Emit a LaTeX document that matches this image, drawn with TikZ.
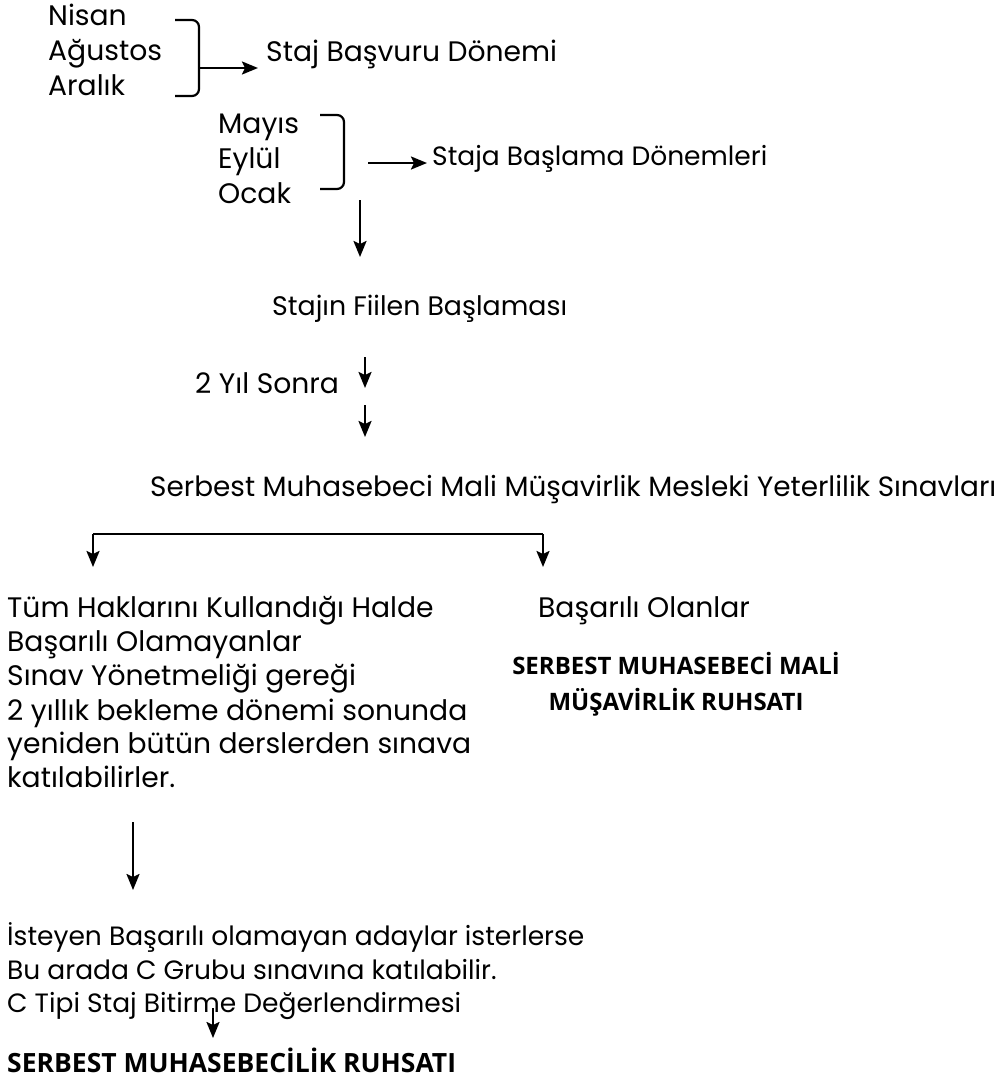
\documentclass[tikz,border=0pt]{standalone}
\usepackage{fontspec}
\setmainfont{Poppins}
\newfontfamily\boldfont{Open Sans}
\usetikzlibrary{arrows.meta}
\tikzset{
  txt/.style={anchor=base west, inner sep=0pt, font=\fontsize{28.2}{32}\selectfont},
  lower/.style={anchor=base west, inner sep=0pt, font=\fontsize{26.5}{31}\selectfont},
  small/.style={anchor=base west, inner sep=0pt, font=\fontsize{26.5}{30}\selectfont},
  bold/.style={inner sep=0pt, font=\boldfont\bfseries\fontsize{24}{29}\selectfont},
  bigbold/.style={inner sep=0pt, font=\boldfont\bfseries\fontsize{26.5}{31}\selectfont},
  conn/.style={line width=2.2pt, -{Stealth[length=16pt,width=13pt,inset=3pt]}},
  brk/.style={line width=2.2pt, rounded corners=7pt}
}
\begin{document}
\begin{tikzpicture}[x=1pt,y=-1pt]
\useasboundingbox (0,0) rectangle (1006,1081);
% group 1
\node[txt] (nisan) at (48,26) {Nisan};
\node[txt] (agustos) at (48,60) {Ağustos};
\node[txt] (aralik) at (48,95) {Aralık};
\draw[brk] (175,20) -- (199,20) -- (199,96) -- (175,96);
\coordinate (b1) at (199,68);
\node[txt] (basvuru) at (266,62) {Staj Başvuru Dönemi};
\draw[conn] (b1) -- ([xshift=-8pt]basvuru.base west |- b1);
% group 2
\node[txt] (mayis) at (218,133) {Mayıs};
\node[txt] (eylul) at (218,168) {Eylül};
\node[txt] (ocak) at (218,203) {Ocak};
\draw[brk] (320,115) -- (344,115) -- (344,189) -- (320,189);
\coordinate (b2s) at (368,163);
\node[small] (baslama) at (432,165) {Staja Başlama Dönemleri};
\draw[conn] (b2s) -- ([xshift=-5pt]baslama.base west |- b2s);
\coordinate (d1) at (360,200);
\node[txt,font=\fontsize{26.8}{32}\selectfont] (fiilen) at (272,315) {Stajın Fiilen Başlaması};
\draw[conn] (d1) -- (360,257);
\coordinate (d2) at (365,357);
\node[txt] (sonra) at (195,393) {2 Yıl Sonra};
\draw[conn] (d2) -- (365,388);
\coordinate (d3) at (365,405);
\node[txt,font=\fontsize{27.9}{32}\selectfont] (sinav) at (150,496) {Serbest Muhasebeci Mali Müşavirlik Mesleki Yeterlilik Sınavları};
\draw[conn] (d3) -- (365,437);
% split
\coordinate (sl) at (93,534);
\coordinate (sr) at (543,534);
\draw[line width=2.2pt] (sl) -- (sr);
\draw[conn] (sl) -- (93,567);
\draw[conn] (sr) -- (543,567);
% left block
\node[txt] (l1) at (7,617) {Tüm Haklarını Kullandığı Halde};
\node[txt] (l2) at (7,651) {Başarılı Olamayanlar};
\node[txt] (l3) at (7,685) {Sınav Yönetmeliği gereği};
\node[txt] (l4) at (7,720) {2 yıllık bekleme dönemi sonunda};
\node[txt] (l5) at (7,753) {yeniden bütün derslerden sınava};
\node[txt] (l6) at (7,787) {katılabilirler.};
% right block
\node[txt] (basarili) at (538,617) {Başarılı Olanlar};
\node[bold,anchor=base] (smmm1) at (676,674) {SERBEST MUHASEBECİ MALİ};
\node[bold,anchor=base] (smmm2) at (676,710) {MÜŞAVİRLİK RUHSATI};
% lower
\coordinate (d4) at (133,822);
\node[lower] (i1) at (7,945) {İsteyen Başarılı olamayan adaylar isterlerse};
\node[lower] (i2) at (7,979) {Bu arada C Grubu sınavına katılabilir.};
\node[lower] (i3) at (7,1012) {C Tipi Staj Bitirme Değerlendirmesi};
\draw[conn] (d4) -- (133,890);
\coordinate (d5) at (213,1008);
\node[bigbold,anchor=base west] (smr) at (7,1072) {SERBEST MUHASEBECİLİK RUHSATI};
\draw[conn] (d5) -- (213,1038);
\end{tikzpicture}
\end{document}
